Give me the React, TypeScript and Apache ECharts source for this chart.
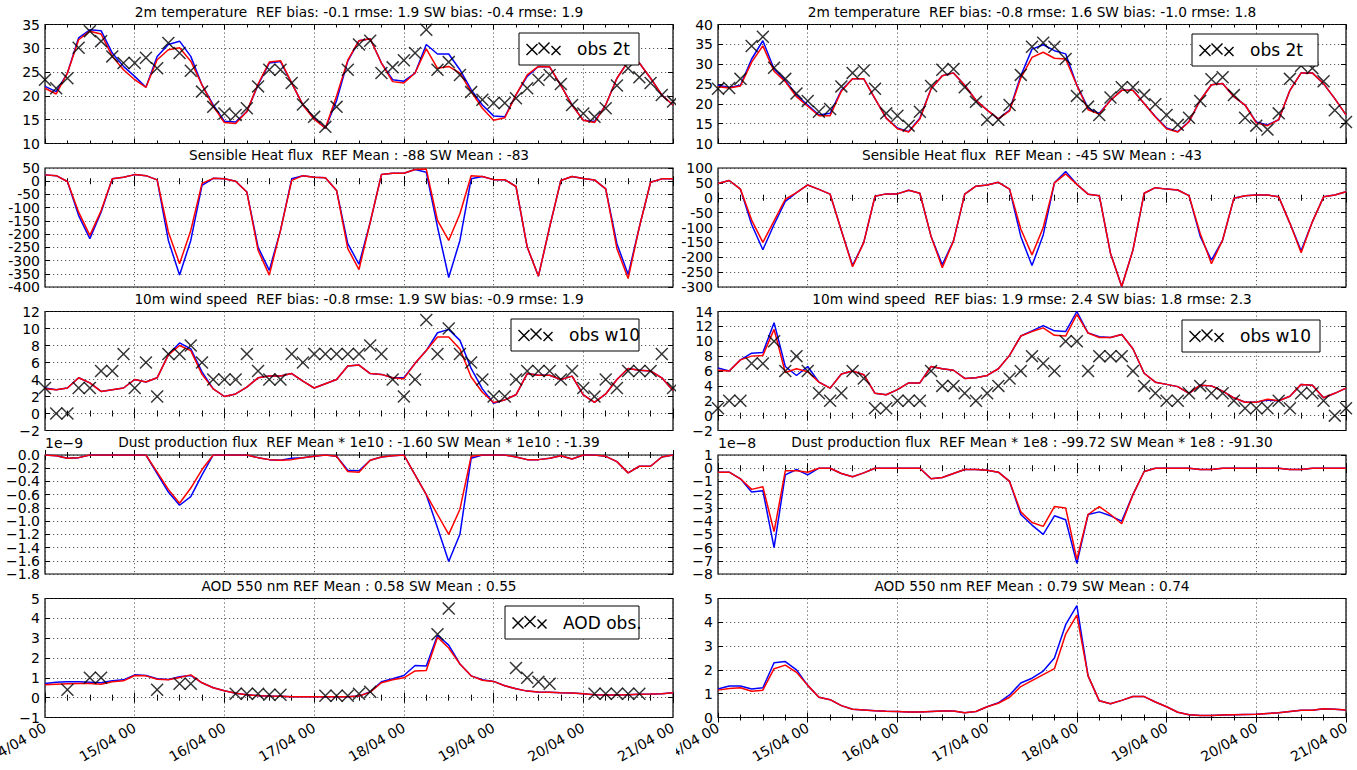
import React, { useEffect, useRef } from "react";
import * as echarts from "echarts";

// Model output every 3 hours, starting 14/04 00 UTC
const STEP_HOURS = 3;
const DAY_TICKS = ["14/04 00", "15/04 00", "16/04 00", "17/04 00", "18/04 00", "19/04 00", "20/04 00", "21/04 00"];

// ---- Station A (left figure) ----
const T2M_REF_A = [22.0, 20.9, 24.8, 32.2, 33.9, 33.7, 29.0, 26.2, 24.1, 21.8, 28.3, 30.8, 31.5, 28.3, 22.3, 18.1, 14.7, 14.5, 16.7, 22.3, 26.9, 27.2, 22.7, 18.1, 15.3, 13.2, 19.0, 27.3, 31.6, 32.0, 26.9, 23.4, 23.1, 24.8, 30.8, 28.8, 28.8, 25.5, 21.3, 18.1, 15.8, 15.6, 20.2, 24.1, 26.2, 26.1, 22.2, 18.1, 14.9, 14.6, 18.1, 23.7, 27.3, 26.9, 23.7, 20.2, 18.1];
const T2M_SW_A = [21.6, 20.4, 24.8, 31.8, 33.6, 33.0, 28.3, 25.5, 23.4, 21.8, 27.6, 29.7, 30.1, 27.3, 22.3, 17.8, 14.4, 14.2, 16.7, 22.5, 27.1, 27.4, 22.7, 18.1, 15.1, 13.2, 20.0, 27.5, 31.6, 32.0, 26.9, 23.0, 22.7, 24.8, 29.9, 25.8, 26.2, 24.8, 20.9, 17.4, 14.9, 15.4, 20.2, 24.4, 26.2, 26.1, 22.2, 18.0, 14.9, 14.4, 18.1, 23.7, 27.2, 26.9, 23.7, 20.2, 18.1];
const T2M_OBS_A = [23.4, 21.6, 23.7, 30.1, 33.6, 31.5, 28.3, 26.9, 26.9, 28.0, 25.8, 31.1, 29.0, 25.3, 20.9, 17.7, 16.3, 16.0, 17.4, 22.0, 25.5, 25.5, 22.7, 18.2, 15.6, 13.5, 17.7, 25.5, 30.8, 31.6, 24.8, 26.0, 27.5, 29.0, 33.9, 25.5, 27.1, 24.4, 20.8, 19.2, 18.5, 18.5, 19.5, 21.6, 23.4, 24.4, 22.5, 18.1, 16.3, 15.6, 17.4, 22.2, 25.8, 23.9, 22.7, 20.2, 18.8];

const SHF_REF_A = [24, 21, -1, -130, -217, -117, 9, 15, 25, 21, 5, -224, -355, -224, -16, 11, 9, 0, -41, -249, -337, -186, 9, 21, 15, 13, -35, -236, -314, -155, 25, 30, 30, 44, 34, -173, -364, -224, 9, 18, 6, 6, -20, -249, -359, -173, 3, 18, 10, 5, -29, -236, -353, -173, -4, 9, 9];
const SHF_SW_A = [24, 21, -1, -117, -205, -112, 9, 15, 25, 21, 5, -192, -312, -186, -8, 11, 9, 0, -41, -261, -355, -186, 3, 21, 15, 13, -35, -255, -334, -155, 25, 30, 30, 44, 46, -148, -224, -123, 21, 18, 6, 6, -20, -249, -359, -173, 3, 18, 10, 5, -29, -255, -368, -173, -4, 9, 9];

const W10_REF_A = [3.0, 2.8, 3.0, 4.2, 3.6, 2.6, 2.8, 3.0, 4.0, 3.7, 4.2, 6.9, 8.3, 7.6, 4.9, 2.9, 2.0, 2.3, 3.1, 4.2, 4.4, 4.4, 4.7, 3.8, 3.0, 3.5, 4.0, 5.6, 5.7, 4.7, 4.6, 4.2, 4.2, 5.9, 7.4, 9.5, 9.9, 8.6, 5.3, 2.9, 1.2, 1.6, 2.2, 4.7, 4.5, 4.5, 4.0, 4.4, 2.2, 1.3, 2.3, 4.0, 5.3, 5.1, 5.0, 4.2, 2.7];
const W10_SW_A = [2.9, 2.8, 3.0, 4.2, 3.6, 2.6, 2.8, 3.0, 4.0, 3.7, 4.2, 6.9, 8.0, 7.4, 4.6, 2.9, 2.0, 2.3, 3.1, 4.2, 4.4, 4.4, 4.7, 3.8, 3.0, 3.5, 4.0, 5.6, 5.7, 4.7, 4.6, 4.2, 4.1, 5.9, 7.4, 9.0, 9.0, 7.6, 4.3, 2.5, 1.3, 1.6, 2.2, 4.7, 4.5, 4.5, 4.0, 4.4, 2.2, 1.3, 2.3, 4.0, 5.3, 5.1, 5.0, 4.2, 2.7];
const W10_OBS_A = [3, 0, 0, 3, 3, 5, 5, 7, 3, 6, 2, 7, 7, 8, 6, 4, 4, 4, 7, 5, 4, 4, 7, 6, 7, 7, 7, 7, 7, 8, 7, 4, 2, 4, 11, 7, 10, 7, 6, 4, 2, 2, 4, 5, 5, 5, 4, 5, 3, 2, 4, 3, 5, 5, 5, 7, 3];

// dust flux in units of 1e-9
const DUST_REF_A = [0, -0.01, -0.05, -0.04, 0, 0, 0, 0, 0, 0, -0.28, -0.56, -0.76, -0.63, -0.30, 0, 0, 0, 0, -0.04, -0.07, -0.08, -0.05, -0.04, -0.02, 0, -0.02, -0.23, -0.24, -0.08, -0.03, -0.01, 0, -0.3, -0.6, -1.1, -1.61, -1.2, -0.05, 0, 0, 0, -0.03, -0.07, -0.07, -0.05, -0.01, -0.06, 0, 0, -0.02, -0.1, -0.27, -0.17, -0.17, -0.03, 0];
const DUST_SW_A = [0, -0.01, -0.05, -0.04, 0, 0, 0, 0, 0, 0, -0.26, -0.52, -0.73, -0.5, -0.22, 0, 0, 0, 0, -0.04, -0.07, -0.08, -0.07, -0.04, -0.02, 0, -0.02, -0.25, -0.26, -0.08, -0.03, -0.01, 0, -0.3, -0.6, -0.9, -1.2, -0.82, -0.02, 0, 0, 0, -0.03, -0.07, -0.07, -0.05, -0.01, -0.06, 0, 0, -0.02, -0.1, -0.27, -0.17, -0.17, -0.03, 0];

const AOD_REF_A = [0.72, 0.78, 0.8, 0.8, 0.78, 0.75, 0.85, 0.9, 1.15, 1.12, 0.95, 0.92, 1.05, 1.12, 0.75, 0.5, 0.35, 0.22, 0.15, 0.1, 0.08, 0.07, 0.05, 0.05, 0.05, 0.05, 0.05, 0.05, 0.08, 0.3, 0.8, 0.95, 1.12, 1.62, 1.6, 3.15, 2.65, 1.7, 1.1, 0.9, 0.82, 0.6, 0.45, 0.33, 0.28, 0.27, 0.25, 0.24, 0.2, 0.15, 0.14, 0.13, 0.15, 0.17, 0.18, 0.2, 0.25];
const AOD_SW_A = [0.65, 0.68, 0.7, 0.72, 0.72, 0.68, 0.8, 0.85, 1.12, 1.1, 0.93, 0.9, 1.02, 1.15, 0.75, 0.5, 0.35, 0.22, 0.15, 0.1, 0.08, 0.07, 0.05, 0.05, 0.05, 0.05, 0.05, 0.05, 0.08, 0.28, 0.75, 0.9, 1.0, 1.35, 1.37, 3.05, 2.5, 1.7, 1.1, 0.88, 0.82, 0.6, 0.45, 0.33, 0.28, 0.27, 0.25, 0.24, 0.2, 0.15, 0.14, 0.13, 0.15, 0.17, 0.18, 0.2, 0.25];
const AOD_OBS_A = [null, null, 0.4, null, 1.0, 1.0, null, null, null, null, 0.4, null, 0.7, 0.7, null, null, null, 0.2, 0.2, 0.2, 0.15, 0.15, null, null, null, 0.1, 0.1, 0.1, 0.2, 0.3, null, null, null, null, null, 3.2, 4.5, null, null, null, null, null, 1.5, 1.0, 0.8, 0.7, null, null, null, 0.2, 0.2, 0.2, 0.2, 0.2, null, null, null];

// ---- Station B (right figure) ----
const T2M_REF_B = [24.7, 24.1, 24.7, 31.3, 35.9, 28.8, 25.9, 22.2, 19.7, 17.2, 17.6, 23.4, 26.3, 26.3, 21.3, 16.4, 13.9, 13.0, 16.4, 23.8, 27.1, 27.8, 24.7, 20.9, 18.4, 16.2, 18.4, 27.1, 33.8, 34.9, 33.4, 32.6, 24.7, 18.9, 17.6, 20.9, 23.4, 23.4, 20.1, 16.8, 13.9, 13.0, 15.5, 20.9, 24.8, 25.1, 21.8, 19.7, 15.4, 14.7, 16.0, 23.4, 27.8, 27.8, 25.1, 21.3, 17.2];
const T2M_SW_B = [24.3, 24.0, 24.5, 30.5, 34.6, 28.2, 25.6, 21.8, 19.4, 17.0, 17.0, 23.2, 26.3, 26.3, 21.3, 16.4, 13.7, 12.9, 16.2, 23.8, 27.1, 27.8, 24.7, 20.9, 18.4, 16.2, 18.2, 26.5, 31.7, 33.0, 31.5, 31.3, 24.7, 18.5, 17.4, 20.9, 23.4, 23.4, 20.1, 16.7, 13.7, 12.9, 15.5, 20.9, 24.8, 25.1, 21.8, 19.7, 15.2, 14.5, 16.0, 23.4, 27.8, 27.8, 25.1, 21.3, 17.2];
const T2M_OBS_B = [23.8, 24.0, 26.3, 34.6, 36.9, 29.1, 26.3, 22.6, 20.7, 18.0, 18.7, 24.4, 27.8, 28.4, 23.8, 17.6, 17.0, 14.5, 18.0, 24.5, 28.6, 28.8, 24.2, 20.5, 16.0, 16.0, 19.7, 27.3, 34.4, 35.4, 34.4, 31.3, 22.0, 19.3, 17.2, 21.6, 24.2, 24.2, 22.2, 19.9, 17.2, 14.7, 16.5, 20.7, 26.2, 26.7, 22.2, 16.5, 14.5, 13.5, 17.6, 26.3, 29.6, 29.0, 25.7, 18.4, 15.4];

const SHF_REF_B = [48, 58, 29, -90, -175, -90, -12, 17, 43, 28, 12, -110, -228, -150, 5, 13, 13, 25, 15, -130, -225, -145, 12, 39, 43, 52, 29, -130, -228, -125, 50, 88, 45, 12, 7, -187, -298, -176, 15, 34, 29, 26, 7, -130, -210, -142, -2, 7, 9, 9, 3, -86, -178, -81, 3, 9, 20];
const SHF_SW_B = [48, 58, 29, -75, -150, -78, -5, 17, 43, 28, 12, -110, -232, -150, 5, 13, 13, 25, 15, -130, -235, -145, 12, 39, 43, 52, 29, -105, -192, -100, 50, 80, 45, 12, 7, -187, -298, -176, 15, 34, 29, 26, 7, -120, -222, -142, -2, 7, 9, 9, 3, -86, -185, -81, 3, 9, 20];

const W10_REF_B = [6.4, 6.0, 7.5, 8.4, 8.5, 12.5, 6.6, 5.4, 6.6, 4.5, 3.7, 5.6, 6.0, 5.5, 3.0, 2.8, 3.5, 4.4, 4.4, 6.6, 6.3, 6.1, 5.0, 5.1, 5.4, 6.3, 8.1, 10.7, 11.4, 12.1, 11.4, 11.3, 14.0, 11.1, 10.6, 10.5, 10.9, 9.0, 5.7, 4.5, 4.2, 3.9, 3.0, 4.1, 4.0, 3.3, 2.4, 1.8, 1.8, 2.1, 2.0, 2.6, 4.2, 4.1, 2.4, 3.0, 3.7];
const W10_SW_B = [6.1, 6.0, 7.5, 8.0, 8.1, 11.6, 5.8, 6.3, 5.9, 4.5, 3.7, 5.6, 6.0, 5.5, 3.0, 2.8, 3.5, 4.4, 4.4, 6.6, 6.3, 6.1, 5.0, 5.1, 5.4, 6.3, 8.1, 10.7, 11.3, 11.8, 10.8, 10.7, 13.6, 11.1, 10.5, 10.5, 10.9, 9.0, 5.7, 4.5, 4.2, 3.9, 3.0, 4.1, 4.0, 3.3, 2.4, 1.8, 1.8, 2.2, 2.0, 2.6, 4.2, 4.1, 2.4, 3.0, 3.7];
const W10_OBS_B = [1, 2, 2, 7, 7, 10, 6, 8, 6, 3, 2, 3, 6, 5, 1, 1, 2, 2, 2, 6, 4, 4, 3, 2, 3, 4, 5, 6, 8, 7, 6, 10, 10, 6, 8, 8, 8, 6, 4, 3, 2, 2, 3, 4, 3, 3, 2, 1, 1, 1, 2, 1, 3, 3, 2, 0, 1];

// dust flux in units of 1e-8
const DUST_REF_B = [-0.3, -0.3, -0.8, -1.8, -1.7, -6.0, -0.5, -0.1, -0.5, 0, 0, -0.4, -0.65, -0.35, 0, 0, 0, 0, 0, -0.8, -0.7, -0.4, -0.1, -0.1, -0.15, -0.3, -1.0, -3.5, -4.3, -5.0, -3.6, -3.9, -7.2, -3.5, -3.3, -3.6, -4.0, -2.0, -0.25, 0, 0, 0, 0, -0.1, -0.1, 0, 0, 0, 0, 0, 0, -0.1, -0.1, 0, 0, 0, 0];
const DUST_SW_B = [-0.3, -0.3, -0.8, -1.6, -1.4, -4.8, -0.2, -0.2, -0.3, 0, 0, -0.4, -0.65, -0.35, 0, 0, 0, 0, 0, -0.8, -0.7, -0.4, -0.1, -0.1, -0.15, -0.3, -1.0, -3.3, -4.1, -4.4, -2.9, -3.0, -6.9, -3.5, -2.9, -3.5, -4.2, -2.0, -0.25, 0, 0, 0, 0, -0.1, -0.1, 0, 0, 0, 0, 0, 0, -0.1, -0.1, 0, 0, 0, 0];

const AOD_REF_B = [1.2, 1.32, 1.32, 1.2, 1.25, 2.3, 2.35, 2.0, 1.35, 0.85, 0.75, 0.5, 0.35, 0.32, 0.28, 0.26, 0.25, 0.23, 0.23, 0.25, 0.27, 0.27, 0.2, 0.25, 0.45, 0.62, 0.95, 1.45, 1.65, 1.95, 2.5, 3.9, 4.7, 1.75, 0.7, 0.58, 0.72, 0.88, 0.88, 0.65, 0.45, 0.22, 0.12, 0.08, 0.08, 0.1, 0.12, 0.13, 0.14, 0.17, 0.2, 0.25, 0.3, 0.3, 0.37, 0.35, 0.32];
const AOD_SW_B = [1.15, 1.22, 1.25, 1.1, 1.15, 2.05, 2.2, 1.9, 1.35, 0.85, 0.75, 0.5, 0.35, 0.32, 0.28, 0.26, 0.25, 0.23, 0.23, 0.25, 0.27, 0.27, 0.2, 0.25, 0.45, 0.6, 0.85, 1.3, 1.55, 1.8, 2.05, 3.5, 4.3, 1.75, 0.7, 0.58, 0.72, 0.88, 0.88, 0.65, 0.45, 0.22, 0.12, 0.08, 0.08, 0.1, 0.12, 0.13, 0.14, 0.17, 0.2, 0.25, 0.3, 0.3, 0.37, 0.35, 0.32];

// ---- layout and style ----
const FONT = "DejaVu Sans";
const REF_COLOR = "#0000ff";
const SW_COLOR = "#ff0000";
// two side-by-side figures, one per station
const FIGURES = [
  { left: 0, width: 676, plotLeft: 45 },
  { left: 676, width: 681, plotLeft: 42 },
];
const PLOT_W = 628;
const ROW_TOP = [24.5, 168, 311.5, 455, 598.5];
const ROW_H = 119;
const X_MARK = "path://M0,0.8L0.8,0L10,9.2L9.2,10ZM9.2,0L10,0.8L0.8,10L0,9.2Z";
const HYPHEN = "-";
const MINUS = "\u2212";

type Legend = { label: string; x: number; y: number; w: number; h: number };
type Panel = {
  row: number;
  col: number;
  title: string;
  min: number;
  max: number;
  interval: number;
  digits: number;
  minus: string;
  ref: number[];
  sw: number[];
  obs?: (number | null)[];
  legend?: Legend;
  offsetText?: string;
};

// legend x is measured from the left edge of its own figure
const PANELS: Panel[] = [
  { row: 0, col: 0, title: "2m temperature  REF bias: -0.1 rmse: 1.9 SW bias: -0.4 rmse: 1.9", min: 10, max: 35, interval: 5, digits: 0, minus: MINUS, ref: T2M_REF_A, sw: T2M_SW_A, obs: T2M_OBS_A, legend: { label: "obs 2t", x: 519, y: 33, w: 120, h: 32 } },
  { row: 0, col: 1, title: "2m temperature  REF bias: -0.8 rmse: 1.6 SW bias: -1.0 rmse: 1.8", min: 10, max: 40, interval: 5, digits: 0, minus: MINUS, ref: T2M_REF_B, sw: T2M_SW_B, obs: T2M_OBS_B, legend: { label: "obs 2t", x: 516, y: 34, w: 126, h: 32 } },
  { row: 1, col: 0, title: "Sensible Heat flux  REF Mean : -88 SW Mean : -83", min: -400, max: 50, interval: 50, digits: 0, minus: HYPHEN, ref: SHF_REF_A, sw: SHF_SW_A },
  { row: 1, col: 1, title: "Sensible Heat flux  REF Mean : -45 SW Mean : -43", min: -300, max: 100, interval: 50, digits: 0, minus: HYPHEN, ref: SHF_REF_B, sw: SHF_SW_B },
  { row: 2, col: 0, title: "10m wind speed  REF bias: -0.8 rmse: 1.9 SW bias: -0.9 rmse: 1.9", min: -2, max: 12, interval: 2, digits: 0, minus: MINUS, ref: W10_REF_A, sw: W10_SW_A, obs: W10_OBS_A, legend: { label: "obs w10", x: 511, y: 319, w: 128, h: 32 } },
  { row: 2, col: 1, title: "10m wind speed  REF bias: 1.9 rmse: 2.4 SW bias: 1.8 rmse: 2.3", min: -2, max: 14, interval: 2, digits: 0, minus: MINUS, ref: W10_REF_B, sw: W10_SW_B, obs: W10_OBS_B, legend: { label: "obs w10", x: 506, y: 320, w: 138, h: 32 } },
  { row: 3, col: 0, title: "Dust production flux  REF Mean * 1e10 : -1.60 SW Mean * 1e10 : -1.39", min: -1.8, max: 0, interval: 0.2, digits: 1, minus: MINUS, ref: DUST_REF_A, sw: DUST_SW_A, offsetText: "1e\u22129" },
  { row: 3, col: 1, title: "Dust production flux  REF Mean * 1e8 : -99.72 SW Mean * 1e8 : -91.30", min: -8, max: 1, interval: 1, digits: 0, minus: MINUS, ref: DUST_REF_B, sw: DUST_SW_B, offsetText: "1e\u22128" },
  { row: 4, col: 0, title: "AOD 550 nm REF Mean : 0.58 SW Mean : 0.55", min: -1, max: 5, interval: 1, digits: 0, minus: MINUS, ref: AOD_REF_A, sw: AOD_SW_A, obs: AOD_OBS_A, legend: { label: "AOD obs.", x: 505, y: 606, w: 134, h: 33 } },
  { row: 4, col: 1, title: "AOD 550 nm REF Mean : 0.79 SW Mean : 0.74", min: 0, max: 5, interval: 1, digits: 0, minus: MINUS, ref: AOD_REF_B, sw: AOD_SW_B },
];

const X_MAX = (DAY_TICKS.length - 1) * 24;
const GRID_LINE = { color: "#333", width: 0.8, type: [1.2, 2.8] as number[] };
const TICK_STYLE = { color: "#000", width: 1 };
const Y_LABEL = { fontSize: 14, fontFamily: FONT, color: "#000", margin: 5 };

function fmt(v: number, digits: number, minus: string): string {
  const val = Math.abs(v) < 1e-9 ? 0 : v;
  return val.toFixed(digits).replace("-", minus);
}

function isEnd(v: number, p: Panel) {
  const eps = p.interval * 1e-6;
  return Math.abs(v - p.min) < eps || Math.abs(v - p.max) < eps;
}

function toPoints(vals: (number | null)[]) {
  const pts: number[][] = [];
  vals.forEach((v, i) => {
    if (v !== null && v !== undefined) pts.push([i * STEP_HOURS, v]);
  });
  return pts;
}

function crossLines(cx: number, cy: number, s: number) {
  const st = { stroke: "#000", lineWidth: 1.4 };
  return [
    { type: "line", z: 101, shape: { x1: cx - s, y1: cy - s, x2: cx + s, y2: cy + s }, style: st },
    { type: "line", z: 101, shape: { x1: cx - s, y1: cy + s, x2: cx + s, y2: cy - s }, style: st },
  ];
}

function legendElements(lg: Legend) {
  const cy = lg.y + lg.h / 2;
  const els: any[] = [
    { type: "rect", z: 100, shape: { x: lg.x, y: lg.y, width: lg.w, height: lg.h }, style: { fill: "#fff", stroke: "#000", lineWidth: 1 } },
  ];
  els.push(...crossLines(lg.x + 13, cy + 0.5, 5.5));
  els.push(...crossLines(lg.x + 25, cy - 1, 5.5));
  els.push(...crossLines(lg.x + 37, cy + 1.5, 4.5));
  els.push({
    type: "text",
    z: 101,
    x: lg.x + 58,
    y: cy,
    style: { text: lg.label, fill: "#000", fontSize: 17, fontFamily: FONT, textAlign: "left", textVerticalAlign: "middle", align: "left", verticalAlign: "middle" },
  });
  return els;
}

function buildOption(col: number) {
  const fig = FIGURES[col];
  const panels = PANELS.filter((p) => p.col === col);
  const n = panels.length;
  const grid: any[] = [];
  const xAxis: any[] = [];
  const yAxis: any[] = [];
  const series: any[] = [];
  const graphic: any[] = [];

  panels.forEach((p, k) => {
    const left = fig.plotLeft;
    const top = ROW_TOP[p.row];
    const bottomRow = p.row === 4;
    grid.push({ left, top, width: PLOT_W, height: ROW_H, show: true, borderColor: "#000", borderWidth: 1.2, containLabel: false, outerBoundsMode: "none" });

    const xCommon = {
      gridIndex: k,
      type: "value",
      min: 0,
      max: X_MAX,
      interval: 24,
      axisLine: { show: false },
      axisTick: { show: true, inside: true, length: 5, lineStyle: TICK_STYLE },
      minorTick: { show: true, splitNumber: 4, length: 3, lineStyle: TICK_STYLE },
    };
    xAxis[k] = {
      ...xCommon,
      position: "bottom",
      splitLine: { show: true, lineStyle: GRID_LINE },
      axisLabel: bottomRow
        ? {
            show: true,
            rotate: 30,
            margin: 9,
            fontSize: 14,
            fontFamily: FONT,
            color: "#000",
            showMinLabel: true,
            showMaxLabel: true,
            hideOverlap: false,
            formatter: (v: number) => DAY_TICKS[Math.round(v / 24)] ?? "",
          }
        : { show: false },
    };
    xAxis[n + k] = { ...xCommon, position: "top", splitLine: { show: false }, axisLabel: { show: false } };

    const yCommon = { gridIndex: k, type: "value", min: p.min, max: p.max, interval: p.interval, axisLine: { show: false } };
    // inner tick labels with ticks and grid lines
    yAxis[k] = {
      ...yCommon,
      position: "left",
      axisTick: { show: true, inside: true, length: 5, lineStyle: TICK_STYLE },
      splitLine: { show: true, lineStyle: GRID_LINE },
      axisLabel: {
        ...Y_LABEL,
        showMinLabel: false,
        showMaxLabel: false,
        formatter: (v: number) => fmt(v, p.digits, p.minus),
      },
    };
    // the two end labels
    yAxis[n + k] = {
      ...yCommon,
      position: "left",
      axisTick: { show: false },
      splitLine: { show: false },
      axisLabel: {
        ...Y_LABEL,
        showMinLabel: true,
        showMaxLabel: true,
        formatter: (v: number) => (isEnd(v, p) ? fmt(v, p.digits, p.minus) : ""),
      },
    };
    // right-hand ticks
    yAxis[2 * n + k] = {
      ...yCommon,
      position: "right",
      axisTick: { show: true, inside: true, length: 5, lineStyle: TICK_STYLE },
      splitLine: { show: false },
      axisLabel: { show: false },
    };

    series.push({
      name: "REF",
      type: "line",
      xAxisIndex: k,
      yAxisIndex: k,
      data: toPoints(p.ref),
      showSymbol: false,
      symbol: "none",
      silent: true,
      z: 2,
      lineStyle: { color: REF_COLOR, width: 1.5 },
      itemStyle: { color: REF_COLOR },
    });
    series.push({
      name: "SW",
      type: "line",
      xAxisIndex: k,
      yAxisIndex: k,
      data: toPoints(p.sw),
      showSymbol: false,
      symbol: "none",
      silent: true,
      z: 3,
      lineStyle: { color: SW_COLOR, width: 1.5 },
      itemStyle: { color: SW_COLOR },
    });
    if (p.obs) {
      series.push({
        name: p.legend ? p.legend.label : "obs",
        type: "scatter",
        xAxisIndex: k,
        yAxisIndex: k,
        data: toPoints(p.obs),
        symbol: X_MARK,
        symbolSize: 13,
        silent: true,
        z: 4,
        itemStyle: { color: "#000" },
      });
    }

    graphic.push({
      type: "text",
      x: left + PLOT_W / 2,
      y: top - 13,
      style: { text: p.title, fill: "#000", fontSize: 13.7, fontFamily: FONT, textAlign: "center", textVerticalAlign: "middle", align: "center", verticalAlign: "middle" },
    });
    if (p.offsetText) {
      graphic.push({
        type: "text",
        x: left,
        y: top - 12,
        style: { text: p.offsetText, fill: "#000", fontSize: 14, fontFamily: FONT, textAlign: "left", textVerticalAlign: "middle", align: "left", verticalAlign: "middle" },
      });
    }
    if (p.legend) graphic.push(...legendElements(p.legend));
  });

  return {
    animation: false,
    backgroundColor: "#ffffff",
    textStyle: { fontFamily: FONT },
    grid,
    xAxis,
    yAxis,
    series,
    graphic,
  };
}

function Figure({ col }: { col: number }) {
  const ref = useRef<HTMLDivElement>(null);
  useEffect(() => {
    if (!ref.current) return;
    const chart = echarts.init(ref.current, null, { renderer: "svg" });
    chart.setOption(buildOption(col) as any);
    return () => chart.dispose();
  }, [col]);
  const fig = FIGURES[col];
  return (
    <div
      ref={ref}
      style={{ position: "absolute", left: fig.left, top: 0, width: fig.width, height: 770, overflow: "hidden", background: "#fff" }}
    />
  );
}

export default function App() {
  return (
    <div style={{ position: "absolute", left: 0, top: 0, width: 1357, height: 770, background: "#fff" }}>
      <Figure col={0} />
      <Figure col={1} />
    </div>
  );
}
